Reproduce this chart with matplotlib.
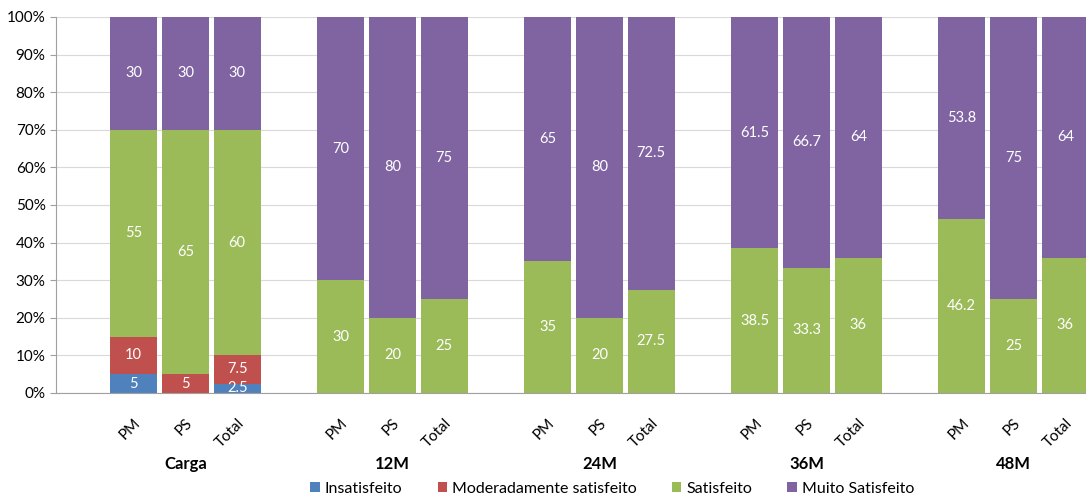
import matplotlib.pyplot as plt
import numpy as np

plt.rcParams['font.family'] = ['Lato', 'DejaVu Sans']

# dados
grupos = ['Carga', '12M', '24M', '36M', '48M']
subgrupos = ['PM', 'PS', 'Total']
series = ['Insatisfeito', 'Moderadamente satisfeito', 'Satisfeito', 'Muito Satisfeito']
cores = ['#4F81BD', '#C0504D', '#9BBB59', '#8064A2']

insatisfeito = [5, 0, 2.5, 0, 0, 0, 0, 0, 0, 0, 0, 0, 0, 0, 0]
moderado = [10, 5, 7.5, 0, 0, 0, 0, 0, 0, 0, 0, 0, 0, 0, 0]
satisfeito = [55, 65, 60, 30, 20, 25, 35, 20, 27.5, 38.5, 33.3, 36, 46.2, 25, 36]
muito = [30, 30, 30, 70, 80, 75, 65, 80, 72.5, 61.5, 66.7, 64, 53.8, 75, 64]

valores = [insatisfeito, moderado, satisfeito, muito]

# posicoes: um espaco vazio antes de cada grupo
pos = []
for g in range(len(grupos)):
    for s in range(len(subgrupos)):
        pos.append(g * 4 + 1 + s)
pos = np.array(pos)

fig = plt.figure(figsize=(10.86, 5.01), dpi=100)
ax = fig.add_axes([0.0516, 0.2156, 0.9484, 0.7505])

base = np.zeros(len(pos))
for nome, vals, cor in zip(series, valores, cores):
    vals = np.array(vals, dtype=float)
    ax.bar(pos, vals, bottom=base, width=0.91, color=cor, label=nome, zorder=2)
    for x, b, v in zip(pos, base, vals):
        if v > 0:
            txt = ('%g' % v)
            ax.text(x, b + v / 2, txt, ha='center', va='center', color='white',
                    fontsize=10.5, zorder=3)
    base += vals

ax.set_xlim(-0.5, 19.4)
ax.set_ylim(0, 100)
ax.set_yticks(np.arange(0, 101, 10))
ax.set_yticklabels(['%d%%' % v for v in range(0, 101, 10)], fontsize=11)
ax.yaxis.grid(True, color='#d9d9d9', linewidth=0.8, zorder=0)
ax.set_axisbelow(True)

ax.set_xticks(pos)
ax.set_xticklabels(subgrupos * len(grupos), rotation=45, fontsize=11,
                   ha='right', va='center', rotation_mode='anchor')
ax.tick_params(axis='x', length=0, pad=20)
ax.tick_params(axis='y', length=4, color='#a0a0a0')
# desloca os rotulos um pouco para a direita
import matplotlib.transforms as mtransforms
off = mtransforms.ScaledTranslation(5 / 100, 0, fig.dpi_scale_trans)
for lab in ax.get_xticklabels():
    lab.set_transform(lab.get_transform() + off)

for s in ['top', 'right']:
    ax.spines[s].set_visible(False)
ax.spines['left'].set_color('#a0a0a0')
ax.spines['bottom'].set_color('#a0a0a0')

for g, nome in enumerate(grupos):
    ax.text(g * 4 + 2, -19, nome, ha='center', va='center', fontsize=12,
            fontweight='bold', transform=ax.transData)

ax.legend(loc='center', bbox_to_anchor=(0.54, -0.255), ncol=4, frameon=False,
          fontsize=11.5, handlelength=0.6, handleheight=0.6, handletextpad=0.3,
          columnspacing=2.2)

fig.savefig('out.png', dpi=100)
